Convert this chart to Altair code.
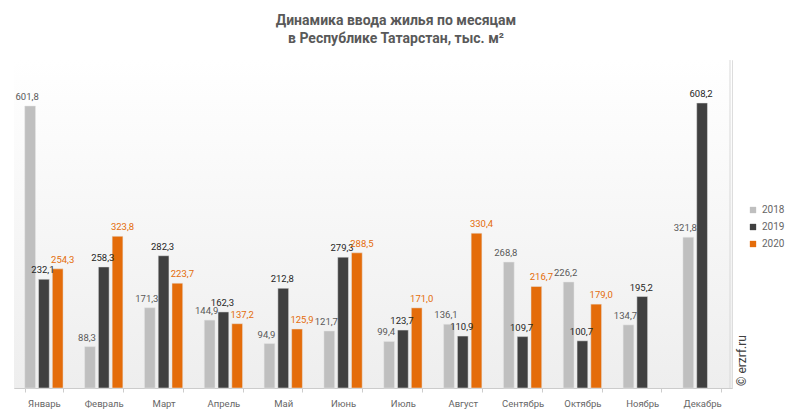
import altair as alt
import pandas as pd

months = ["Январь", "Февраль", "Март", "Апрель", "Май", "Июнь", "Июль",
          "Август", "Сентябрь", "Октябрь", "Ноябрь", "Декабрь"]
years = ["2018", "2019", "2020"]
v2018 = [601.8, 88.3, 171.3, 144.9, 94.9, 121.7, 99.4, 136.1, 268.8, 226.2, 134.7, 321.8]
v2019 = [232.1, 258.3, 282.3, 162.3, 212.8, 279.3, 123.7, 110.9, 109.7, 100.7, 195.2, 608.2]
v2020 = [254.3, 323.8, 223.7, 137.2, 125.9, 288.5, 171.0, 330.4, 216.7, 179.0, None, None]

bar_colors = ["#BFBFBF", "#404040", "#E46C0A"]
label_colors = ["#595959", "#262626", "#E46C0A"]
label_dx = [-3, -1, 5]

rows = []
for y, vals in zip(years, [v2018, v2019, v2020]):
    for m, v in zip(months, vals):
        if v is None:
            continue
        rows.append({"month": m, "year": y, "value": v,
                     "label": f"{v:.1f}".replace(".", ",")})
df = pd.DataFrame(rows)

W, H = 718, 328
FONT = "Roboto"

x_enc = alt.X("month:N", sort=months, title=None,
              scale=alt.Scale(paddingInner=0.36, paddingOuter=0.18),
              axis=alt.Axis(labelAngle=0, labelColor="#666666", labelFont=FONT,
                            labelFontSize=9.5, domainColor="#cccccc",
                            tickColor="#cccccc", tickSize=4, tickBand="extent",
                            labelPadding=6))
y_enc = alt.Y("value:Q", title=None, scale=alt.Scale(domain=[0, 700]),
              axis=alt.Axis(labels=False, ticks=False, grid=False,
                            domainColor="#d9d9d9"))
xo = alt.XOffset("year:N", sort=years, scale=alt.Scale(paddingInner=0.22))

bg = alt.Chart(pd.DataFrame({"a": [0]})).mark_rect(
    fill=alt.Gradient(gradient="linear",
                      stops=[alt.GradientStop(color="#ffffff", offset=0),
                             alt.GradientStop(color="#eeeeee", offset=1)],
                      x1=0, x2=0, y1=0, y2=1)
).encode(x=alt.value(0), x2=alt.value(W), y=alt.value(0), y2=alt.value(H))

bars = alt.Chart(df).mark_bar(stroke="#e6e6e6", strokeWidth=0.5).encode(
    x=x_enc, xOffset=xo, y=y_enc,
    color=alt.Color("year:N", sort=years,
                    scale=alt.Scale(domain=years, range=bar_colors),
                    legend=alt.Legend(title=None, orient="none", legendX=734,
                                      legendY=145, symbolType="square",
                                      symbolSize=40, labelFont=FONT,
                                      labelFontSize=10, labelColor="#666666",
                                      rowPadding=7, symbolStrokeWidth=0))
)

texts = []
for y, c, d in zip(years, label_colors, label_dx):
    texts.append(
        alt.Chart(df).transform_filter(alt.datum.year == y).mark_text(
            baseline="bottom", dy=-4, dx=d, fontSize=9.5, font=FONT, color=c
        ).encode(x=alt.X("month:N", sort=months), xOffset=alt.XOffset("year:N", sort=years),
                 y="value:Q", text="label:N")
    )

right_rule = alt.Chart(pd.DataFrame({"a": [0]})).mark_rule(color="#d9d9d9").encode(
    x=alt.value(W - 2), y=alt.value(0), y2=alt.value(H))

wm = alt.Chart(pd.DataFrame({"t": ["© erzrf.ru"]})).mark_text(
    angle=270, align="left", baseline="middle", fontSize=12, font=FONT,
    color="#404040").encode(x=alt.value(W + 10), y=alt.value(H - 2), text="t:N")

chart = alt.layer(bg, bars, *texts, right_rule, wm).properties(
    width=W, height=H,
    title=alt.TitleParams(
        ["Динамика ввода жилья по месяцам", "в Республике Татарстан, тыс. м²"],
        fontSize=14, font=FONT, fontWeight="bold", color="#595959",
        anchor="middle", dx=23, offset=14, lineHeight=18),
    autosize=alt.AutoSizeParams(type="none"),
    padding={"left": 14, "top": 60, "right": 61, "bottom": 27},
).configure_view(stroke=None).configure(background="#ffffff")

chart.save("out.html", embed_options={"renderer": "svg", "actions": False})
